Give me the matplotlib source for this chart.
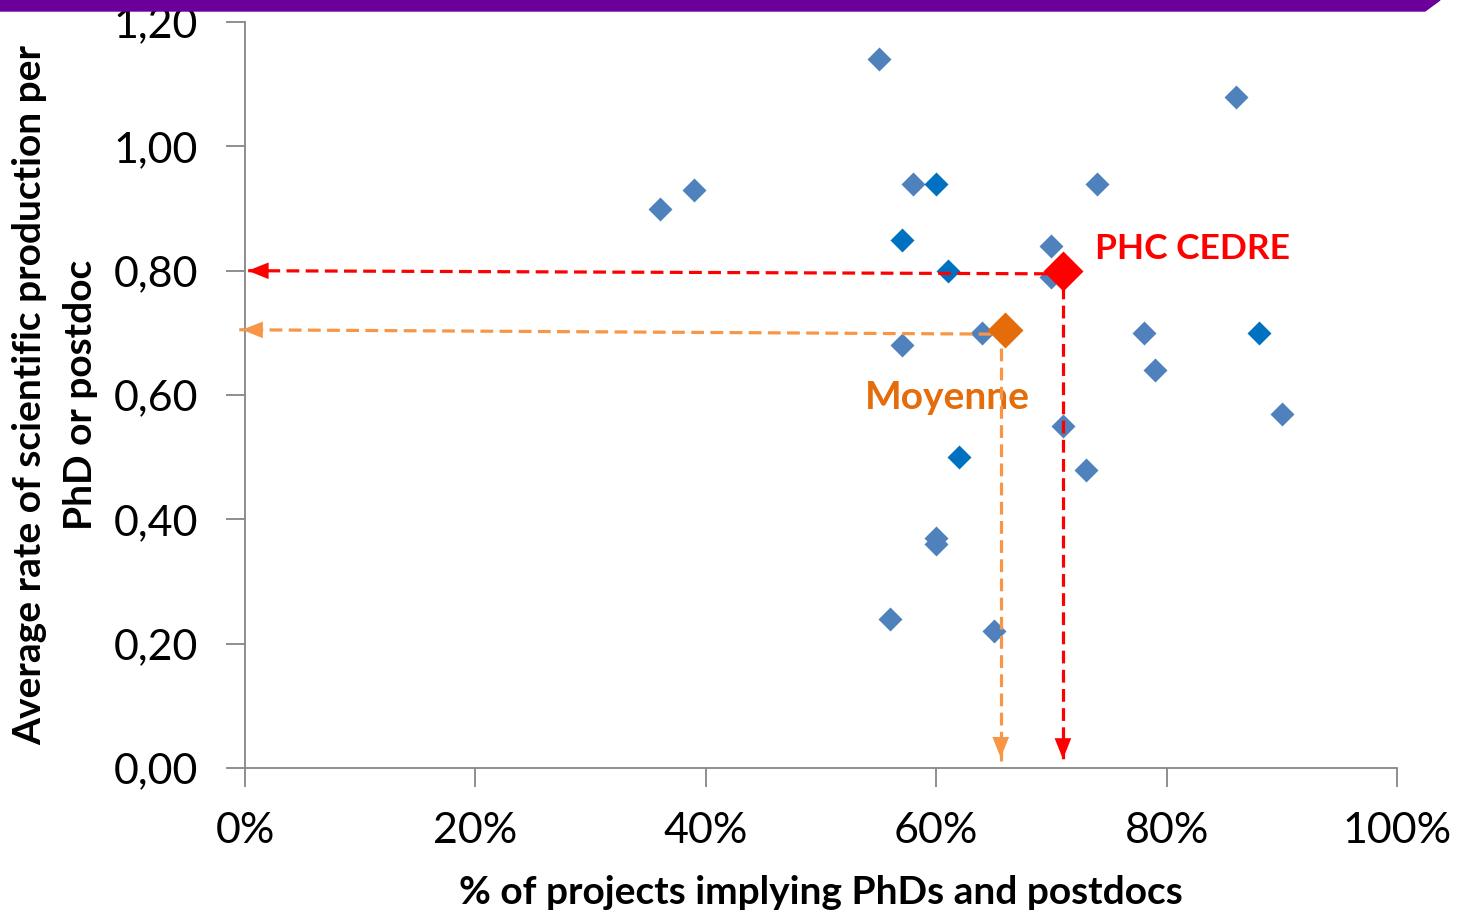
import matplotlib.pyplot as plt
from matplotlib.patches import Polygon

plt.rcParams['font.family'] = ['Lato', 'DejaVu Sans']

# projets (% avec doctorants/postdocs, taux de production)
x_clair = [55, 86, 36, 39, 58, 74, 70, 70, 64, 57, 78, 79, 90, 71, 73, 60, 60, 56, 65]
y_clair = [1.14, 1.08, 0.90, 0.93, 0.94, 0.94, 0.84, 0.79, 0.70, 0.68, 0.70, 0.64, 0.57, 0.55, 0.48, 0.37, 0.36, 0.24, 0.22]
x_fonce = [60, 57, 61, 62, 88]
y_fonce = [0.94, 0.85, 0.80, 0.50, 0.70]

phc = (71, 0.80)
moyenne = (66, 0.705)

fig = plt.figure(figsize=(14.61, 9.14), dpi=100)
ax = fig.add_axes([0.1677, 0.1597, 0.7885, 0.8162])

ax.plot(x_clair, y_clair, 'D', color='#4F81BD', ms=12.5, mec='none', zorder=3)
ax.plot(x_fonce, y_fonce, 'D', color='#0070C0', ms=12.5, mec='none', zorder=3)

# fleches pointillees
def fleche(x0, y0, x1, y1, couleur):
    ax.plot([x0, x1], [y0, y1], color=couleur, lw=2.3, ls=(0, (4, 2)), zorder=4, clip_on=False)
    dx = (x1 - x0)
    dy = (y1 - y0)
    n = (dx ** 2 + (dy * 80) ** 2) ** 0.5
    ax.annotate('', xy=(x1, y1), xytext=(x1 - dx / n * 2, y1 - dy / n * 2),
                arrowprops=dict(arrowstyle='-|>,head_length=1.5,head_width=0.6',
                                color=couleur, lw=0), zorder=5, annotation_clip=False)

fleche(69.6, 0.795, 0.0, 0.80, '#FF0000')
fleche(71, 0.775, 71, 0.01, '#FF0000')
fleche(64.8, 0.698, -0.5, 0.705, '#F79646')
fleche(65.6, 0.675, 65.6, 0.012, '#F79646')

ax.plot(*phc, 'D', color='#FF0000', ms=20.5, mec='none', zorder=6)
ax.plot(*moyenne, 'D', color='#E46C0A', ms=18.5, mec='none', zorder=6)

ax.text(73.8, 0.835, 'PHC CEDRE', color='#FF0000', fontsize=25.5, fontweight='bold', va='center')
ax.text(53.8, 0.596, 'Moyenne', color='#E46C0A', fontsize=28, fontweight='bold', va='center')

ax.set_xlim(0, 100)
ax.set_ylim(0, 1.2)
ax.set_xticks(range(0, 101, 20))
ax.set_xticklabels([f'{v}%' for v in range(0, 101, 20)])
ax.set_yticks([0, 0.2, 0.4, 0.6, 0.8, 1.0, 1.2])
ax.set_yticklabels(['0,00', '0,20', '0,40', '0,60', '0,80', '1,00', '1,20'])
ax.tick_params(labelsize=31, length=14, width=1.3, color='#868686', labelcolor='black')
ax.tick_params(axis='y', pad=20)
ax.tick_params(axis='x', pad=18)

for s in ['top', 'right']:
    ax.spines[s].set_visible(False)
for s in ['left', 'bottom']:
    ax.spines[s].set_color('#868686')
    ax.spines[s].set_linewidth(1.3)

ax.set_xlabel('% of projects implying PhDs and postdocs', fontsize=28, fontweight='bold', labelpad=18)
ax.set_ylabel('Average rate of scientific production per\nPhD or postdoc', fontsize=28,
              fontweight='bold', labelpad=11, linespacing=1.55)

# bandeau violet en haut
bande = Polygon([[0, 1], [1440 / 1461, 1], [1425 / 1461, 1 - 11 / 914], [0, 1 - 11 / 914]],
                closed=True, transform=fig.transFigure, color='#6A0099', zorder=10)
fig.patches.append(bande)

fig.savefig('out.png', dpi=100)
